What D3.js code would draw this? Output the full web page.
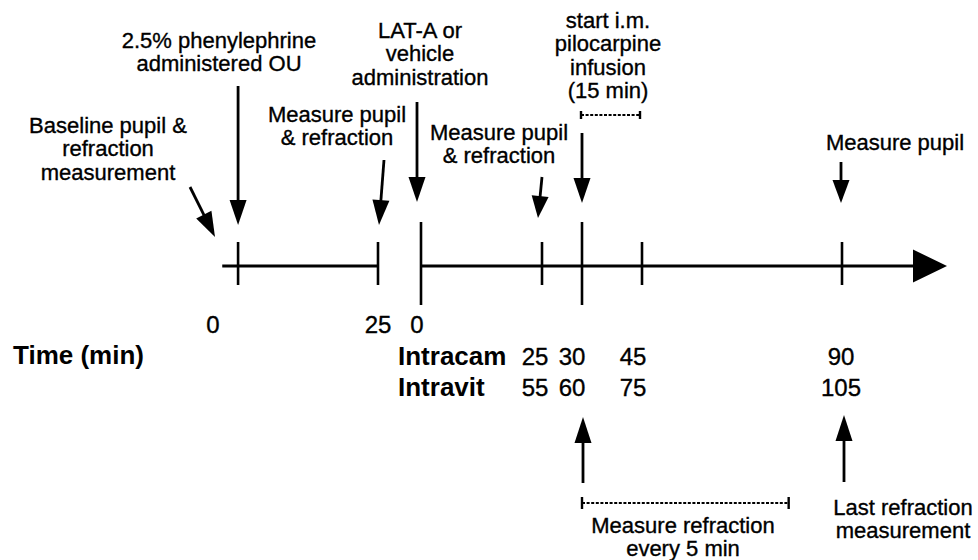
<!DOCTYPE html>
<html>
<head>
<meta charset="utf-8">
<script src="https://cdn.jsdelivr.net/npm/d3@7"></script>
<style>
  body { margin: 0; background: #fff; }
  svg { display: block; font-family: "Liberation Sans", Arial, Helvetica, sans-serif; }
  .lbl { font-size: 22px; fill: #000; stroke: #000; stroke-width: 0.35px; }
  .num { font-size: 24px; fill: #000; stroke: #000; stroke-width: 0.35px; }
  .bold { font-size: 26px; font-weight: bold; fill: #000; }
</style>
</head>
<body>
<svg id="chart"></svg>
<script>
// pre-dose period (min) and post-dose period (min, intracameral clock)
const preTicks = [3.8, 25];
const preLabels = [0, 25];
const postTicks = [0, 25, 30, 45, 90];
const postLongTicks = [0, 30];
const postZeroLabel = [0];
const rowNames = ['Intracam', 'Intravit'];
const intracamTimes = [25, 30, 45, 90];
const intravitTimes = [55, 60, 75, 105];
const infusionSpan = [30, 45];
const refractionSpan = [30, 78];

const topNotes = [
  ['Baseline pupil &', 'refraction', 'measurement'],
  ['2.5% phenylephrine', 'administered OU'],
  ['Measure pupil', '& refraction'],
  ['LAT-A or', 'vehicle', 'administration'],
  ['Measure pupil', '& refraction'],
  ['start i.m.', 'pilocarpine', 'infusion', '(15 min)'],
  ['Measure pupil']
];
const bottomNotes = [
  ['Measure refraction', 'every 5 min'],
  ['Last refraction', 'measurement']
];

const width = 978, height = 560;
const axisY = 266;

const svg = d3.select('#chart').attr('width', width).attr('height', height);

// scales (the diagram is not drawn to scale, so the post-dose one is piecewise)
const xPre = d3.scaleLinear().domain([0, 25]).range([213, 378]);
const xPost = d3.scaleLinear()
  .domain([0, 25, 30, 45, 90, 110])
  .range([421, 542, 582, 642, 842, 947]);
const xPostLabel = d3.scaleLinear()
  .domain([0, 25, 30, 45, 90])
  .range([417, 535, 572, 633, 841]);

// arrow helper: shaft + filled head
function arrow(g, x1, y1, x2, y2, headLen = 25, headHalf = 8.5) {
  const dx = x2 - x1, dy = y2 - y1;
  const len = Math.hypot(dx, dy);
  const ux = dx / len, uy = dy / len;
  const bx = x2 - ux * headLen, by = y2 - uy * headLen;
  g.append('line')
    .attr('x1', x1).attr('y1', y1).attr('x2', bx + ux).attr('y2', by + uy)
    .attr('stroke', '#000').attr('stroke-width', 2.8);
  g.append('path')
    .attr('d', `M${x2},${y2}L${bx - uy * headHalf},${by + ux * headHalf}L${bx + uy * headHalf},${by - ux * headHalf}Z`)
    .attr('fill', '#000');
}

function textBlock(lines, cx, y0, step = 23.3) {
  const t = svg.append('text').attr('class', 'lbl').attr('text-anchor', 'middle');
  lines.forEach((s, i) => {
    t.append('tspan').attr('x', cx).attr('y', y0 + i * step).text(s);
  });
}

function bracket(x1, x2, y, tick) {
  const g = svg.append('g').attr('stroke', '#000');
  g.append('line').attr('x1', x1).attr('x2', x2).attr('y1', y).attr('y2', y)
    .attr('stroke-width', 2).attr('stroke-dasharray', '3,1.6');
  [x1, x2].forEach(x => {
    g.append('line').attr('x1', x).attr('x2', x)
      .attr('y1', y - tick / 2).attr('y2', y + tick / 2).attr('stroke-width', 2.4);
  });
}

// ---- timeline ----
const axis = svg.append('g').attr('stroke', '#000');

axis.append('line')
  .attr('x1', xPre(1.4)).attr('x2', xPre(25))
  .attr('y1', axisY).attr('y2', axisY).attr('stroke-width', 3);
axis.append('line')
  .attr('x1', xPost(0)).attr('x2', xPost(110) - 32)
  .attr('y1', axisY).attr('y2', axisY).attr('stroke-width', 3);
svg.append('path')
  .attr('d', `M${xPost(110)},${axisY}L${xPost(110) - 34},${axisY - 16.5}L${xPost(110) - 34},${axisY + 16.5}Z`)
  .attr('fill', '#000');

axis.selectAll('.pre-tick')
  .data(preTicks)
  .enter()
  .append('line')
    .attr('x1', d => xPre(d)).attr('x2', d => xPre(d))
    .attr('y1', axisY - 24).attr('y2', axisY + 19)
    .attr('stroke-width', 2.6);

axis.selectAll('.post-tick')
  .data(postTicks)
  .enter()
  .append('line')
    .attr('x1', d => xPost(d)).attr('x2', d => xPost(d))
    .attr('y1', d => postLongTicks.includes(d) ? axisY - 44 : axisY - 24)
    .attr('y2', d => postLongTicks.includes(d) ? axisY + 39 : axisY + 19)
    .attr('stroke-width', 2.6);

// ---- time labels ----
svg.selectAll('.pre-label')
  .data(preLabels)
  .enter()
  .append('text')
    .attr('class', 'num')
    .attr('text-anchor', 'middle')
    .attr('x', d => xPre(d))
    .attr('y', 333)
    .text(d => d);

svg.selectAll('.post-zero')
  .data(postZeroLabel)
  .enter()
  .append('text')
    .attr('class', 'num')
    .attr('text-anchor', 'middle')
    .attr('x', d => xPostLabel(d))
    .attr('y', 333)
    .text(d => d);

svg.append('text')
  .attr('class', 'bold')
  .attr('x', 13)
  .attr('y', 364)
  .text('Time (min)');

const rows = [intracamTimes, intravitTimes];
rowNames.forEach((name, i) => {
  const y = 365 + i * 31;
  svg.append('text')
    .attr('class', 'bold')
    .attr('x', 398)
    .attr('y', y)
    .text(name);
  svg.selectAll('.row' + i)
    .data(rows[i])
    .enter()
    .append('text')
      .attr('class', 'num')
      .attr('text-anchor', 'middle')
      .attr('x', (d, j) => xPostLabel(intracamTimes[j]))
      .attr('y', y)
      .text(d => d);
});

// ---- annotations above ----
const arrows = svg.append('g');

textBlock(topNotes[0], 108, 133);
arrow(arrows, xPre(0) - 23, 187, xPre(0) + 2, 237);

textBlock(topNotes[1], 219, 48);
arrow(arrows, xPre(preTicks[0]), 86, xPre(preTicks[0]), 225);

textBlock(topNotes[2], 337, 122);
arrow(arrows, xPre(25) + 6, 160, xPre(25) + 1, 225);

textBlock(topNotes[3], 420, 38);
arrow(arrows, xPost(0) - 4, 102, xPost(0) - 4, 202);

textBlock(topNotes[4], 499, 140);
arrow(arrows, xPost(25), 177, xPost(25) - 4, 218, 22);

textBlock(topNotes[5], 608, 28);
bracket(xPost(infusionSpan[0]) - 1, xPost(infusionSpan[1]) - 2, 115, 8);
arrow(arrows, xPost(30), 133, xPost(30), 203);

textBlock(topNotes[6], 895, 150);
arrow(arrows, xPost(90) - 1, 162, xPost(90) - 1, 203, 23);

// ---- annotations below ----
arrow(arrows, xPost(30) + 1, 483, xPost(30) + 1, 417, 26);
arrow(arrows, xPost(90) + 2, 482, xPost(90) + 2, 415, 26);

bracket(xPost(refractionSpan[0]), xPost(refractionSpan[1]), 503, 12);
textBlock(bottomNotes[0], 683, 533);
textBlock(bottomNotes[1], 903, 515);
</script>
</body>
</html>
